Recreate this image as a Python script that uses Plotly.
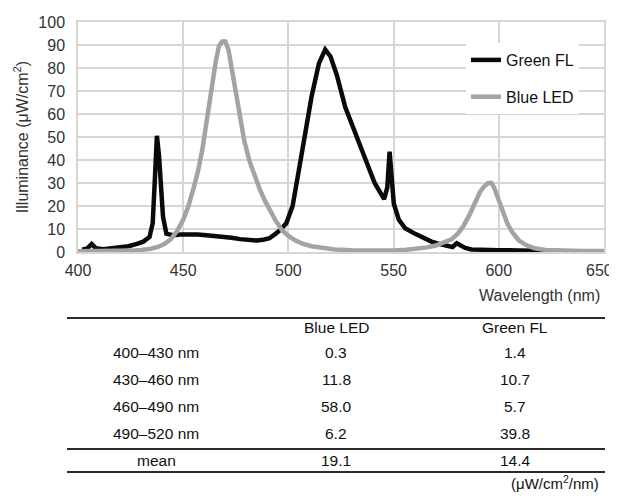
import plotly.graph_objects as go

# ---------------- data ----------------
green_wl = [402, 404.5, 406.5, 408.5, 412, 416, 420, 424, 428, 431, 434, 435.5, 436.5,
            437.5, 438.5, 439.2, 440.4, 442, 445, 449, 453, 457, 461, 465, 469, 473,
            477, 481, 485, 488, 491, 494, 496, 499, 502, 505, 508, 511, 514.5, 517.5,
            520, 523, 527, 532, 537, 541, 545.5, 547, 548.1, 549, 550.1, 552.5, 555.5,
            560, 564, 568, 572, 576, 578, 580, 582, 584, 587, 592, 600, 610, 618, 625]
green_fl = [1.0, 1.6, 3.5, 1.6, 1.2, 1.5, 1.8, 2.5, 3.5, 4.5, 6.5, 12.5, 31,
            50.5, 42, 28.4, 15.4, 8.0, 7.3, 7.6, 7.8, 7.6, 7.3, 7.0, 6.7, 6.2,
            5.6, 5.2, 5.0, 5.3, 6.0, 8.0, 9.5, 12.5, 20, 35.7, 51.6, 67.5, 82, 88,
            85, 77, 63, 51.6, 40, 30, 23, 28, 43.6, 33, 21, 14, 10.3,
            8.0, 6.2, 4.5, 3.4, 2.4, 2.2, 3.8, 2.8, 1.8, 1.1, 0.9, 0.8, 0.7, 0.6, 0.4]

blue_wl = [400, 410, 420, 426, 430, 434, 438, 441, 444, 447, 450, 452.5, 455, 457,
           459, 461, 462.5, 464, 465.5, 467, 468.5, 470, 471.5, 473, 475, 477, 479,
           481.5, 484, 486.5, 489, 491.5, 494, 497, 500, 503, 507, 511, 516, 522,
           530, 540, 550, 556, 561, 566, 570, 574, 577.5, 580.5, 583, 586, 588.5,
           591, 593, 595, 596.5, 598, 600, 602, 604, 606.5, 609.5, 613, 617, 622,
           630, 640, 650]
blue_led = [0.3, 0.3, 0.4, 0.6, 0.9, 1.3, 2.2, 3.5, 5.5, 9, 14, 20, 28, 35,
            44, 55, 65, 74, 83, 89.5, 91.5, 91.5, 88, 80, 68, 57.5, 48.5,
            39.5, 32.5, 27, 22, 17.5, 13.5, 9.5, 7.0, 5.2, 3.5, 2.5, 1.7, 1.1,
            0.8, 0.6, 0.7, 1.0, 1.4, 2.0, 2.8, 4.0, 5.5, 8.0, 11, 16, 21,
            26, 28.5, 30, 30, 27.5, 22.5, 17, 12.5, 8.5, 5.0, 3.0, 1.6, 0.9,
            0.5, 0.4, 0.4]

x_ticks = [400, 450, 500, 550, 600, 650]
x_ticktext = ["400", "450", "500", "550", "600", "650"]
y_ticks = [0, 10, 20, 30, 40, 50, 60, 70, 80, 90, 100]

table_header = ["", "Blue LED", "Green FL"]
table_rows = ["400–430 nm", "430–460 nm", "460–490 nm", "490–520 nm"]
table_blue = ["0.3", "11.8", "58.0", "6.2"]
table_green = ["1.4", "10.7", "5.7", "39.8"]
table_mean = ["mean", "19.1", "14.4"]
table_unit = "(μW/cm<sup>2</sup>/nm)"

# ---------------- layout helpers ----------------
# The page body has an 8px default margin on every side, so the figure is kept
# inside it (no scrolling) and every reference pixel position is shifted by 8px.
OFF = 8
W, H = 617 - OFF, 500 - 2 * OFF
PL, PR, PT, PB = 78 - OFF, 604 - OFF, 22 - OFF, 252 - OFF   # plot area in figure px


def px(x):
    return (x - OFF - PL) / (PR - PL)


def py(y):
    return (PB - (y - OFF)) / (PB - PT)


FONT = "Liberation Sans, Arial, sans-serif"

fig = go.Figure()
fig.add_trace(go.Scatter(x=green_wl, y=green_fl, mode="lines", name="Green FL",
                         line=dict(color="#0a0a0a", width=4.5), legendrank=1,
                         legendgroup="g"))
fig.add_trace(go.Scatter(x=blue_wl, y=blue_led, mode="lines", name="Blue LED",
                         line=dict(color="#a3a3a3", width=4.5), legendrank=2,
                         legendgroup="b"))

grid = "#d6d6d6"
# the last tick label sits at the page edge: it is drawn as a right-aligned
# annotation so that it stays fully visible
tick_labels_axis = x_ticktext[:-1] + [""]
fig.update_layout(
    width=W, height=H,
    margin=dict(l=PL, r=W - PR, t=PT, b=H - PB, pad=0, autoexpand=False),
    paper_bgcolor="white", plot_bgcolor="white",
    font=dict(family=FONT, size=16, color="#222"),
    xaxis=dict(range=[400, 650], tickvals=x_ticks, ticktext=tick_labels_axis,
               showgrid=True, gridcolor=grid,
               gridwidth=1.5, zeroline=False, showline=True, linecolor=grid,
               linewidth=1.5, mirror=True, ticks="", ticklabelstandoff=3,
               automargin=False, tickfont=dict(size=16, color="#333")),
    yaxis=dict(range=[0, 100], tickvals=y_ticks, showgrid=True, gridcolor=grid,
               gridwidth=1.5, zeroline=False, showline=True, linecolor=grid,
               linewidth=1.5, mirror=True, ticks="", ticklabelstandoff=8,
               automargin=False, tickfont=dict(size=16, color="#333")),
    legend=dict(x=px(466), y=py(43), xanchor="left", yanchor="top",
                bgcolor="white", font=dict(size=16, color="#111"),
                tracegroupgap=13, traceorder="grouped"),
    showlegend=True,
)
fig.update_yaxes(title=dict(text="Illuminance (μW/cm<sup>2</sup>)",
                            font=dict(size=16, color="#333"), standoff=6))

fig.add_annotation(text=x_ticktext[-1], xref="paper", yref="paper",
                   x=px(615), y=py(270), xanchor="right", yanchor="middle",
                   showarrow=False, font=dict(size=16, color="#333"))

# x-axis title (placed below the axis, right-aligned as in the reference)
fig.add_annotation(text="Wavelength (nm)", xref="paper", yref="paper",
                   x=px(602), y=py(295), xanchor="right", yanchor="middle",
                   showarrow=False, font=dict(size=16, color="#333"))

# ---------------- table below the chart ----------------
col_x = [156, 336, 515]
tfont = dict(size=15.5, color="#111")


def txt(s, x, y, anchor="center", size=None):
    f = dict(tfont) if size is None else dict(tfont, size=size)
    fig.add_annotation(text=s, xref="paper", yref="paper", x=px(x), y=py(y),
                       xanchor=anchor, yanchor="middle", showarrow=False, font=f)


for j, h in enumerate(table_header):
    if h:
        txt(h, col_x[j], 328)
row_y = [352, 379, 406, 433]
for i, r in enumerate(table_rows):
    txt(r, col_x[0], row_y[i])
    txt(table_blue[i], col_x[1], row_y[i])
    txt(table_green[i], col_x[2], row_y[i])
for j, m in enumerate(table_mean):
    txt(m, col_x[j], 461)
txt(table_unit, 601, 483, anchor="right", size=15)

for ly in [318, 449, 472]:
    fig.add_shape(type="line", xref="paper", yref="paper",
                  x0=px(67), x1=px(605), y0=py(ly), y1=py(ly),
                  line=dict(color="#2a2a2a", width=2))

fig.write_html("out.html")
